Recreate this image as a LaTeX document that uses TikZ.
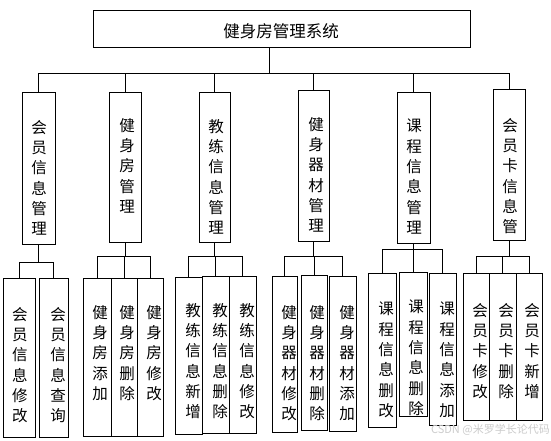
\documentclass[tikz,border=0pt]{standalone}
\usepackage{fontspec}
\newfontfamily\cjk{Noto Sans CJK SC}
\usetikzlibrary{fit}
\tikzset{
  box/.style={draw, line width=1pt, inner sep=0pt},
  vt/.style={font=\cjk\fontsize{15.5}{20.3}\selectfont, align=center, inner sep=0pt, anchor=north},
  ln/.style={line width=1pt},
}
\newcommand{\bx}[8]{%
  \node[box, fit={(#2,#3) (#4,#5)}] (#1) {};
  \node[vt] (#1t) at (#6,#7) {#8};}
\begin{document}
\begin{tikzpicture}[x=1pt,y=-1pt]
\fill[white] (0,0) rectangle (551,440);
\useasboundingbox (0,0) rectangle (551,440);
% top
\node[box, fit={(93,10.5) (470,47.5)}] (top) {};
\node[font=\cjk\fontsize{16.5}{20}\selectfont, inner sep=0pt] (title) at (281,31.5) {健身房管理系统};
% second row
\bx{b1}{22}{92}{55}{244}{39}{120}{会\\员\\信\\息\\管\\理}
\bx{b2}{109}{92}{141}{242}{127}{118}{健\\身\\房\\管\\理}
\bx{b3}{199}{92}{230}{242}{216}{119}{教\\练\\信\\息\\管\\理}
\bx{b4}{298}{90}{329}{241}{316}{117}{健\\身\\器\\材\\管\\理}
\bx{b5}{397}{92}{430}{243}{414}{119}{课\\程\\信\\息\\管\\理}
\bx{b6}{493}{89}{525}{240}{510}{118}{会\\员\\卡\\信\\息\\管}
% third row
\bx{c1a}{3}{278}{35}{437}{20}{307}{会\\员\\信\\息\\修\\改}
\bx{c1b}{39}{278}{68}{437}{58}{307}{会\\员\\信\\息\\查\\询}
\bx{c2a}{83}{278}{111}{436}{100}{305}{健\\身\\房\\添\\加}
\bx{c2b}{111}{278}{137}{436}{127}{305}{健\\身\\房\\删\\除}
\bx{c2c}{137}{278}{163}{436}{154}{305}{健\\身\\房\\修\\改}
\bx{c3a}{175}{277}{202}{434}{193}{303}{教\\练\\信\\息\\新\\增}
\bx{c3b}{202}{276}{229}{433}{220}{303}{教\\练\\信\\息\\删\\除}
\bx{c3c}{229}{276}{256}{433}{247}{303}{教\\练\\信\\息\\修\\改}
\bx{c4a}{272}{276}{297}{432}{289}{305}{健\\身\\器\\材\\修\\改}
\bx{c4b}{301}{275}{327}{430}{317}{305}{健\\身\\器\\材\\删\\除}
\bx{c4c}{329}{276}{356}{431}{347}{305}{健\\身\\器\\材\\添\\加}
\bx{c5a}{368}{273}{396}{427}{386}{302}{课\\程\\信\\息\\删\\改}
\bx{c5b}{399}{272}{427}{416}{416}{300}{课\\程\\信\\息\\删\\除}
\bx{c5c}{429}{273}{456}{425}{447}{302}{课\\程\\信\\息\\添\\加}
\bx{c6a}{463}{273}{489}{420}{480}{303}{会\\员\\卡\\修\\改}
\bx{c6b}{489}{273}{516}{420}{506}{303}{会\\员\\卡\\删\\除}
\bx{c6c}{516}{273}{542}{420}{532}{303}{会\\员\\卡\\新\\增}
% top connectors
\coordinate (j0) at (269,73);
\draw[ln] (top.south -| j0) -- (j0);
\draw[ln] (b1.north |- j0) -- (b6.north |- j0);
\foreach \b in {b1,b2,b3,b4,b5,b6} \draw[ln] (\b.north) -- (\b.north |- j0);
% group connectors
\coordinate (j1) at (39,262);
\coordinate (j2) at (127,256);
\coordinate (j3) at (217,256);
\coordinate (j4) at (313,256);
\coordinate (j5) at (414,249);
\coordinate (j6) at (504,256);
\draw[ln] (b1.south) -- (b1.south |- j1);
\draw[ln] (c1a.north |- j1) -- (c1b.north |- j1);
\foreach \c in {c1a,c1b} \draw[ln] (\c.north) -- (\c.north |- j1);
\foreach \g in {2,3,4,5,6} {
  \draw[ln] (b\g.south) -- (b\g.south |- j\g);
  \draw[ln] (c\g a.north |- j\g) -- (c\g c.north |- j\g);
  \foreach \s in {a,b,c} \draw[ln] (c\g\s.north) -- (c\g\s.north |- j\g);
}
\node[font=\cjk\fontsize{11}{12}\selectfont, text=gray!40, inner sep=0pt, anchor=south east] (wm) at (550,436) {CSDN @米罗学长论代码};
\end{tikzpicture}
\end{document}
